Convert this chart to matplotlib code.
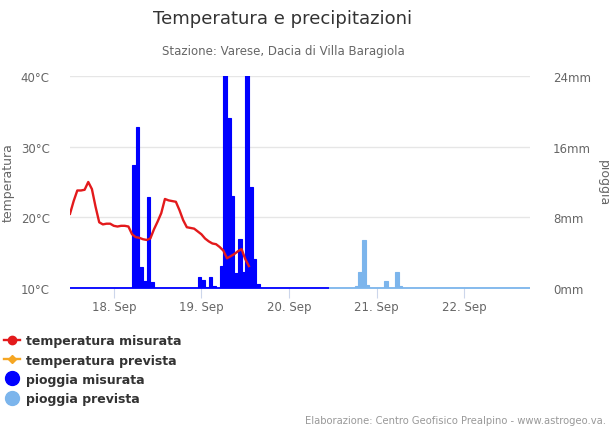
import numpy as np
import matplotlib
matplotlib.use("Agg")
import matplotlib.pyplot as plt
from matplotlib.lines import Line2D

plt.rcParams['font.family'] = ['DejaVu Sans']

# ---- data (x in hours from 17 Sep 12:00) ----
x_start, x_end = 0, 126
day_tick_hours = [12, 36, 60, 84, 108]
day_tick_labels = ["18. Sep", "19. Sep", "20. Sep", "21. Sep", "22. Sep"]

temp_hours = list(range(0, 50))
temp_measured = [20.5, 22.3, 23.8, 23.8, 23.9, 25.0, 24.0, 21.5, 19.3, 19.0,
                 19.1, 19.1, 18.8, 18.7, 18.8, 18.8, 18.7, 17.6, 17.2, 17.1,
                 16.9, 16.8, 17.0, 18.3, 19.4, 20.6, 22.6, 22.4, 22.3, 22.2,
                 21.0, 19.6, 18.6, 18.5, 18.4, 18.0, 17.6, 17.0, 16.6, 16.3,
                 16.2, 15.8, 15.3, 14.2, 14.5, 14.8, 15.2, 15.5, 14.1, 13.1]

# measured rain: hourly, hours 0..70 (only non-zero hours listed)
rain_meas_first, rain_meas_last = 0, 70
rain_meas_hours = [17, 18, 19, 20, 21, 22,
                   35, 36, 37, 38, 39,
                   41, 42, 43, 44, 45, 46, 47, 48, 49, 50, 51]
rain_meas_mm = [13.9, 18.2, 2.4, 0.8, 10.3, 0.7,
                1.3, 0.95, 0.1, 1.2, 0.2,
                2.5, 26.0, 19.2, 10.4, 1.7, 5.6, 1.8, 26.0, 11.4, 3.3, 0.5]

# forecast rain: hourly, hours 71..125
rain_fc_first, rain_fc_last = 71, 125
rain_fc_hours = [78, 79, 80, 81, 86, 89, 90]
rain_fc_mm = [0.2, 1.8, 5.4, 0.3, 0.8, 1.8, 0.2]

# ---- build full hourly tables ----
meas_h = np.arange(rain_meas_first, rain_meas_last + 1)
meas_v = np.zeros(len(meas_h))
for h, v in zip(rain_meas_hours, rain_meas_mm):
    meas_v[h - rain_meas_first] = v
fc_h = np.arange(rain_fc_first, rain_fc_last + 1)
fc_v = np.zeros(len(fc_h))
for h, v in zip(rain_fc_hours, rain_fc_mm):
    fc_v[h - rain_fc_first] = v

# ---- figure ----
W, H = 610, 431
fig = plt.figure(figsize=(W / 100, H / 100), dpi=100)
L, R, T, B = 70, 530, 77, 289
ax_r = fig.add_axes([L / W, 1 - B / H, (R - L) / W, (B - T) / H])
ax_t = ax_r.twinx()

meas_col = '#0000ff'
fc_col = '#7cb5ec'
ax_r.bar(meas_h, meas_v, width=1.0, align='edge', color=meas_col,
         edgecolor=meas_col, linewidth=0.8, zorder=2)
ax_r.bar(fc_h, fc_v, width=1.0, align='edge', color=fc_col,
         edgecolor=fc_col, linewidth=0.8, zorder=2)
# zero-value columns drawn as a thin baseline, as in the original
ax_r.hlines(0, meas_h[0], meas_h[-1] + 1, color=meas_col, lw=1.3,
            clip_on=False, zorder=2)
ax_r.hlines(0, fc_h[0], fc_h[-1] + 1, color=fc_col, lw=1.3,
            clip_on=False, zorder=2)
ax_r.set_ylim(0, 24)
ax_r.set_yticks([0, 8, 16, 24])
ax_r.set_yticklabels(["0mm", "8mm", "16mm", "24mm"])
ax_r.yaxis.tick_right()
ax_r.yaxis.set_label_position("right")

ax_t.plot(temp_hours, temp_measured, color='#e31a1c', lw=1.7, zorder=3,
          solid_joinstyle='round')
ax_t.set_ylim(10, 40)
ax_t.set_yticks([10, 20, 30, 40])
ax_t.set_yticklabels(["10°C", "20°C", "30°C", "40°C"])
ax_t.yaxis.tick_left()
ax_t.yaxis.set_label_position("left")

# draw temperature on top of bars; grid on the bottom axis
ax_t.set_zorder(ax_r.get_zorder() + 1)
ax_t.patch.set_visible(False)
ax_r.grid(axis='y', color='#e6e6e6', lw=1.0, zorder=0)
ax_r.set_axisbelow(True)

for a in (ax_r, ax_t):
    for s in a.spines.values():
        s.set_visible(False)
    a.set_xlim(x_start, x_end)

ax_r.set_xticks(day_tick_hours)
ax_r.set_xticklabels(day_tick_labels)
ax_r.tick_params(axis='x', length=7, width=0.8, color='#ccd6eb', pad=2,
                 labelsize=8.5, labelcolor='#666666')
ax_r.tick_params(axis='y', length=0, pad=16.5, labelsize=8.5,
                 labelcolor='#666666')
ax_t.tick_params(axis='y', length=0, pad=14.5, labelsize=8.5,
                 labelcolor='#666666')
ax_t.tick_params(axis='x', length=0)

fig.text(8 / W, 1 - 183 / H, "temperatura", rotation=90, ha='center',
         va='center', fontsize=9, color='#666666')
fig.text(603 / W, 1 - 183 / H, "pioggia", rotation=270, ha='center',
         va='center', fontsize=9, color='#666666')

fig.text(283 / W, 1 - 19 / H, "Temperatura e precipitazioni", ha='center',
         va='center', fontsize=13, color='#333333')
fig.text(283 / W, 1 - 51 / H, "Stazione: Varese, Dacia di Villa Baragiola",
         ha='center', va='center', fontsize=8.5, color='#666666')

handles = [
    Line2D([], [], color='#e31a1c', lw=1.7, marker='o', markersize=6),
    Line2D([], [], color='#f5a623', lw=1.7, marker='D', markersize=4.5),
    Line2D([], [], color=meas_col, lw=0, marker='o', markersize=10),
    Line2D([], [], color=fc_col, lw=0, marker='o', markersize=10),
]
labels = ["temperatura misurata", "temperatura prevista",
          "pioggia misurata", "pioggia prevista"]
fig.legend(handles, labels, loc='upper left',
           bbox_to_anchor=(-0.012, 1 - 324 / H), frameon=False,
           handlelength=1.3, handletextpad=0.5, labelspacing=0.5,
           prop={'weight': 'bold', 'size': 9}, labelcolor='#333333')

fig.text(606 / W, 1 - 421 / H,
         "Elaborazione: Centro Geofisico Prealpino - www.astrogeo.va.",
         ha='right', va='center', fontsize=7.2, color='#999999')

fig.savefig("out.png", dpi=100)
